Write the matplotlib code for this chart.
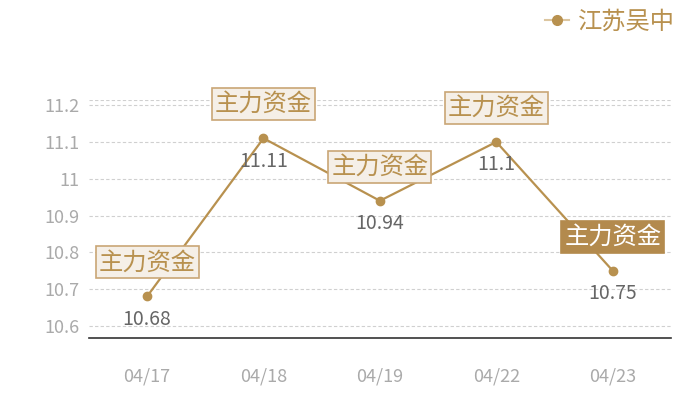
import matplotlib.pyplot as plt
from matplotlib.lines import Line2D

plt.rcParams['font.family'] = ['Noto Sans CJK SC', 'DejaVu Sans']

dates = ['04/17', '04/18', '04/19', '04/22', '04/23']
prices = [10.68, 11.11, 10.94, 11.10, 10.75]
price_labels = ['10.68', '11.11', '10.94', '11.1', '10.75']
tags = ['主力资金', '主力资金', '主力资金', '主力资金', '主力资金']
highlight = [False, False, False, False, True]
yticks = [10.6, 10.7, 10.8, 10.9, 11.0, 11.1, 11.2]
ytick_labels = ['10.6', '10.7', '10.8', '10.9', '11', '11.1', '11.2']

gold = '#b8914f'
dark_gold = '#b38a4d'

fig = plt.figure(figsize=(7, 4), dpi=100)
ax = fig.add_axes([0.127, 0.155, 0.8314, 0.595])

x = list(range(len(dates)))
ax.plot(x, prices, color=gold, linewidth=1.6, marker='o', markersize=6, zorder=3)

ax.set_xlim(-0.5, len(dates) - 0.5)
ax.set_ylim(10.567, 11.214)
ax.set_yticks(yticks)
ax.set_yticklabels(ytick_labels)
ax.set_xticks(x)
ax.set_xticklabels(dates)

ax.grid(axis='y', color='#d0d0d0', linestyle=(0, (3, 2)), linewidth=0.8)
ax.axhline(11.214, color='#d0d0d0', linestyle=(0, (3, 2)), linewidth=0.8)
for s in ['top', 'right', 'left']:
    ax.spines[s].set_visible(False)
ax.spines['bottom'].set_color('#333333')
ax.spines['bottom'].set_linewidth(1.2)
ax.tick_params(axis='both', length=0, colors='#aaaaaa', labelsize=13)
ax.tick_params(axis='x', pad=21)
ax.tick_params(axis='y', pad=7)

for xi, p, lab, t, h in zip(x, prices, price_labels, tags, highlight):
    if h:
        box = dict(boxstyle='square,pad=0.12', fc=dark_gold, ec=dark_gold, lw=1.2)
        tc = 'white'
    else:
        box = dict(boxstyle='square,pad=0.12', fc='#f5efe7', ec='#c9a676', lw=1.2)
        tc = gold
    ax.annotate(t, (xi, p), xytext=(0, 24.5), textcoords='offset points',
                ha='center', va='center', fontsize=17.5, color=tc, bbox=box, zorder=4)
    ax.annotate(lab, (xi, p), xytext=(0, -16.5), textcoords='offset points',
                ha='center', va='center', fontsize=14, color='#666666', zorder=4)

handle = Line2D([], [], color='#dcc6a0', marker='o', markersize=7, linewidth=1.5,
                markerfacecolor=gold, markeredgecolor=gold)
fig.legend([handle], ['江苏吴中'], loc='upper right', bbox_to_anchor=(0.985, 1.015),
           frameon=False, fontsize=17.5, labelcolor=gold, handlelength=1.0,
           handletextpad=0.35, borderaxespad=0.2)

fig.savefig('out.png', dpi=100)
